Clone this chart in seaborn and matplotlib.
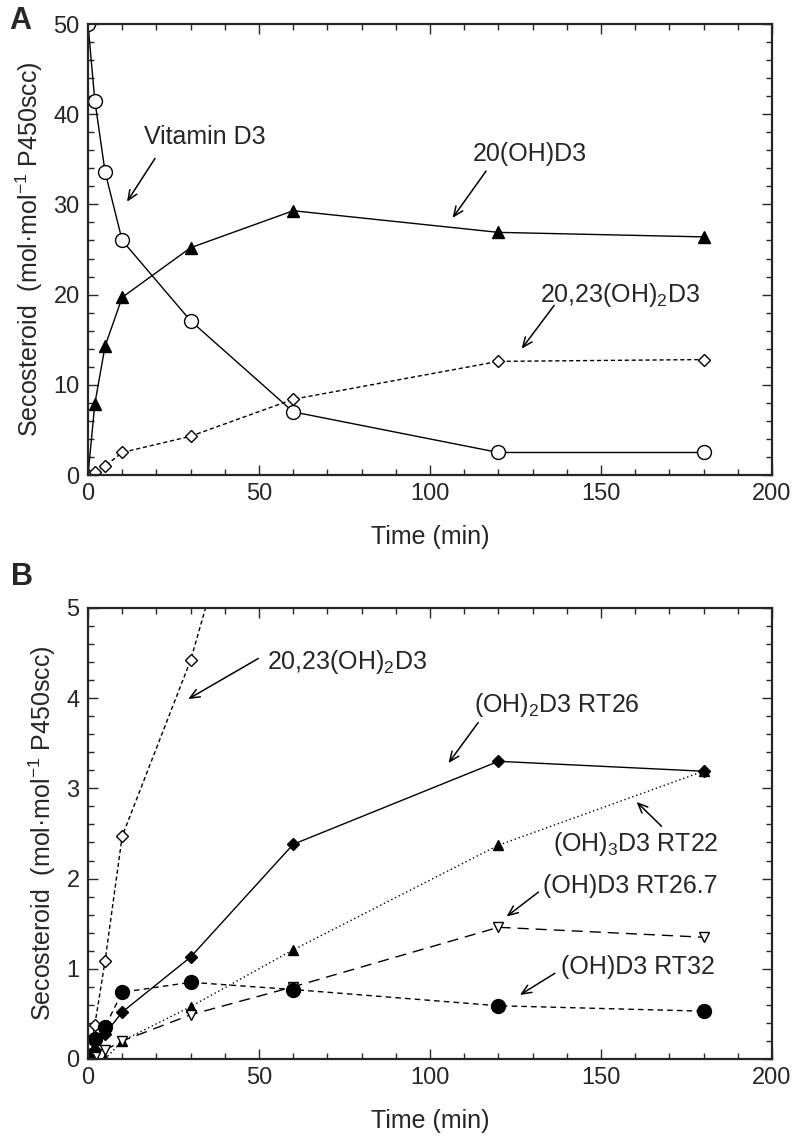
import numpy as np
import pandas as pd
import matplotlib
matplotlib.use("Agg")
import matplotlib.pyplot as plt
import seaborn as sns
from matplotlib.ticker import MultipleLocator

# ---- dati ----
time_min = [0, 2, 5, 10, 30, 60, 120, 180]

# pannello A
vitamin_d3 = [50, 41.5, 33.6, 26.0, 17.1, 7.0, 2.5, 2.5]
oh20_d3 = [0, 7.9, 14.3, 19.7, 25.2, 29.3, 26.9, 26.4]
oh2023_d3 = [0, 0.3, 1.0, 2.5, 4.3, 8.4, 12.6, 12.8]

# pannello B
oh2023_b = [0, 0.38, 1.09, 2.47, 4.42, 8.4, 12.6, 12.8]
rt26 = [0, 0.1, 0.28, 0.52, 1.13, 2.38, 3.30, 3.19]
rt22 = [0, 0, 0, 0.2, 0.58, 1.21, 2.37, 3.19]
rt267 = [0, 0.02, 0.1, 0.2, 0.49, 0.80, 1.46, 1.35]
rt32 = [0, 0.22, 0.36, 0.74, 0.85, 0.77, 0.59, 0.53]

sns.set_style("ticks")
plt.rcParams['font.family'] = ['Liberation Sans', 'DejaVu Sans']
plt.rcParams['mathtext.fontset'] = 'custom'
plt.rcParams['mathtext.rm'] = 'Liberation Sans'
plt.rcParams['mathtext.it'] = 'Liberation Sans'
plt.rcParams['mathtext.bf'] = 'Liberation Sans:bold'

TICK_FS = 17
LABEL_FS = 18
NOTE_FS = 18
YLABEL = "Secosteroid  (mol·mol$^{-1}$ P450scc)"


def draw(ax, values, marker, ls, filled, ms):
    df = pd.DataFrame({'t': time_min, 'v': values})
    sns.lineplot(data=df, x='t', y='v', ax=ax, color='black', linewidth=1.0,
                 linestyle=ls, marker=marker, markersize=ms,
                 markerfacecolor='black' if filled else 'white',
                 markeredgecolor='black', markeredgewidth=1.0, legend=False)


def style_axis(ax, ymax, ymajor, yminor):
    ax.set_xlim(0, 200)
    ax.set_ylim(0, ymax)
    ax.xaxis.set_major_locator(MultipleLocator(50))
    ax.xaxis.set_minor_locator(MultipleLocator(10))
    ax.yaxis.set_major_locator(MultipleLocator(ymajor))
    ax.yaxis.set_minor_locator(MultipleLocator(yminor))
    ax.tick_params(which='both', direction='in', top=True, right=True,
                   labelsize=TICK_FS, width=1.0, pad=6)
    ax.tick_params(which='major', length=7)
    ax.tick_params(which='minor', length=4)
    for s in ax.spines.values():
        s.set_visible(True)
        s.set_linewidth(1.6)
    ax.set_xlabel("Time (min)", fontsize=LABEL_FS, labelpad=14)
    ax.set_ylabel(YLABEL, fontsize=LABEL_FS, labelpad=6)


def note(ax, text, pos, tail, head):
    ax.text(pos[0], pos[1], text, fontsize=NOTE_FS, ha='center', va='center')
    ax.annotate('', xy=head, xytext=tail,
                arrowprops=dict(arrowstyle='->,head_length=0.7,head_width=0.3',
                                color='black', lw=1.1, shrinkA=0, shrinkB=0))


fig = plt.figure(figsize=(8, 11.43), dpi=100)
axA = fig.add_axes([0.11, 0.5844, 0.855, 0.3946])
axB = fig.add_axes([0.11, 0.0735, 0.855, 0.3946])

# ---- pannello A ----
draw(axA, vitamin_d3, 'o', '-', False, 10)
draw(axA, oh20_d3, '^', '-', True, 8)
draw(axA, oh2023_d3, 'D', (0, (3, 2)), False, 6.5)
style_axis(axA, 50, 10, 2)
note(axA, "Vitamin D3", (34.2, 37.5), (19.6, 35.1), (11.4, 30.3))
note(axA, "20(OH)D3", (129.2, 35.6), (116.4, 33.7), (106.6, 28.5))
note(axA, "20,23(OH)$_2$D3", (155.6, 20.0), (136.3, 18.8), (126.8, 14.0))
fig.text(0.012, 0.995, "A", fontsize=22, fontweight='bold', va='top')

# ---- pannello B ----
draw(axB, oh2023_b, 'D', (0, (3, 2)), False, 6.5)
draw(axB, rt26, 'D', '-', True, 6.5)
draw(axB, rt22, '^', (0, (1, 2)), True, 7)
draw(axB, rt267, 'v', (0, (8, 5)), False, 7)
draw(axB, rt32, 'o', (0, (4, 3)), True, 10)
style_axis(axB, 5, 1, 0.2)
note(axB, "20,23(OH)$_2$D3", (75.9, 4.40), (49.8, 4.44), (29.3, 3.99))
note(axB, "(OH)$_2$D3 RT26", (137.0, 3.92), (114.1, 3.73), (105.4, 3.28))
note(axB, "(OH)$_3$D3 RT22", (160.2, 2.38), (167.7, 2.58), (160.4, 2.85))
note(axB, "(OH)D3 RT26.7", (158.6, 1.92), (131.7, 1.85), (122.4, 1.58))
note(axB, "(OH)D3 RT32", (160.9, 1.02), (136.5, 0.95), (126.3, 0.71))
fig.text(0.014, 0.508, "B", fontsize=22, fontweight='bold', va='top')

fig.savefig("out.png", dpi=100)
